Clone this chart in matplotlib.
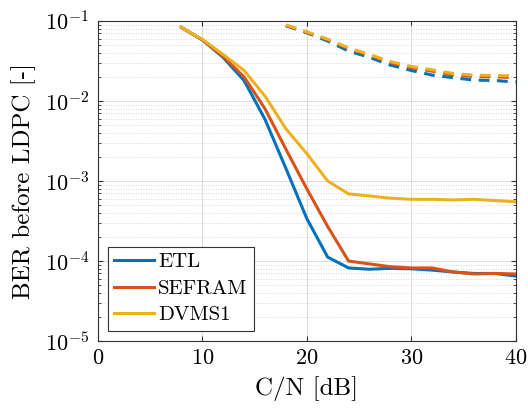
import numpy as np
import matplotlib
matplotlib.use("Agg")
import matplotlib.pyplot as plt

# C/N grid (dB) for the curves
cn_solid = [8, 10, 12, 14, 16, 18, 20, 22, 24, 26, 28, 30, 32, 34, 36, 38, 40]
cn_dashed = [18, 20, 22, 24, 26, 28, 30, 32, 34, 36, 38, 40]

# BER before LDPC, solid curves
ber_etl = [0.083, 0.058, 0.035, 0.018, 0.0059, 0.00144, 0.00034, 0.000112,
           8.2e-5, 7.9e-5, 8.1e-5, 8.0e-5, 7.7e-5, 7.3e-5, 7.0e-5, 7.0e-5, 6.5e-5]
ber_sefram = [0.083, 0.058, 0.036, 0.020, 0.0080, 0.0025, 0.00080, 0.00027,
              1.0e-4, 9.2e-5, 8.5e-5, 8.2e-5, 8.2e-5, 7.3e-5, 6.9e-5, 7.0e-5, 6.9e-5]
ber_dvms1 = [0.083, 0.059, 0.038, 0.024, 0.0115, 0.0045, 0.0022, 0.0010,
             0.00069, 0.00065, 0.00061, 0.00059, 0.00059, 0.00058, 0.00059, 0.00057, 0.00055]

# BER before LDPC, dashed curves
ber_etl_d = [0.087, 0.071, 0.056, 0.042, 0.035, 0.028, 0.024, 0.021, 0.0195, 0.0182, 0.018, 0.0172]
ber_sefram_d = [0.088, 0.072, 0.058, 0.045, 0.037, 0.030, 0.026, 0.0235, 0.021, 0.0202, 0.020, 0.0195]
ber_dvms1_d = [0.089, 0.073, 0.059, 0.046, 0.038, 0.031, 0.027, 0.0245, 0.022, 0.021, 0.0208, 0.0205]

labels = ["ETL", "SEFRAM", "DVMS1"]
colors = ["#0072BD", "#D95319", "#EDB120"]

plt.rcParams["font.family"] = "serif"
plt.rcParams["font.serif"] = ["cmr10"]
plt.rcParams["mathtext.fontset"] = "cm"
plt.rcParams["axes.formatter.use_mathtext"] = True

fig = plt.figure(figsize=(5.28, 4.09), dpi=100)
ax = fig.add_axes([0.185, 0.166, 0.792, 0.783])

for y, c, lab in zip([ber_etl, ber_sefram, ber_dvms1], colors, labels):
    ax.plot(cn_solid, y, color=c, lw=2.2, label=lab)
for y, c in zip([ber_etl_d, ber_sefram_d, ber_dvms1_d], colors):
    ax.plot(cn_dashed, y, color=c, lw=2.2, ls=(0, (3.5, 2.5)))

ax.set_yscale("log")
ax.set_xlim(0, 40)
ax.set_ylim(1e-5, 1e-1)
ax.set_xticks([0, 10, 20, 30, 40])

ax.grid(True, which="major", color="#dddddd", lw=0.8)
ax.grid(True, which="minor", color="#cccccc", lw=0.6, ls=(0, (1, 2)))
ax.tick_params(which="both", direction="in", top=True, right=True, labelsize=16,
               color="#333333")
ax.tick_params(axis="x", pad=5)
ax.tick_params(axis="y", pad=6)
for s in ax.spines.values():
    s.set_color("#333333")
    s.set_linewidth(0.8)

ax.set_xlabel("C/N [dB]", fontsize=18, labelpad=6)
ax.set_ylabel("BER before LDPC [-]", fontsize=18, labelpad=6)

leg = ax.legend(loc="lower left", fontsize=15, fancybox=False, framealpha=1,
                edgecolor="#333333", handlelength=1.9, handletextpad=0.2,
                borderaxespad=0.5, borderpad=0.3, labelspacing=0.42,
                handleheight=0.6)
leg.get_frame().set_linewidth(0.8)

fig.savefig("out.png", dpi=100)
